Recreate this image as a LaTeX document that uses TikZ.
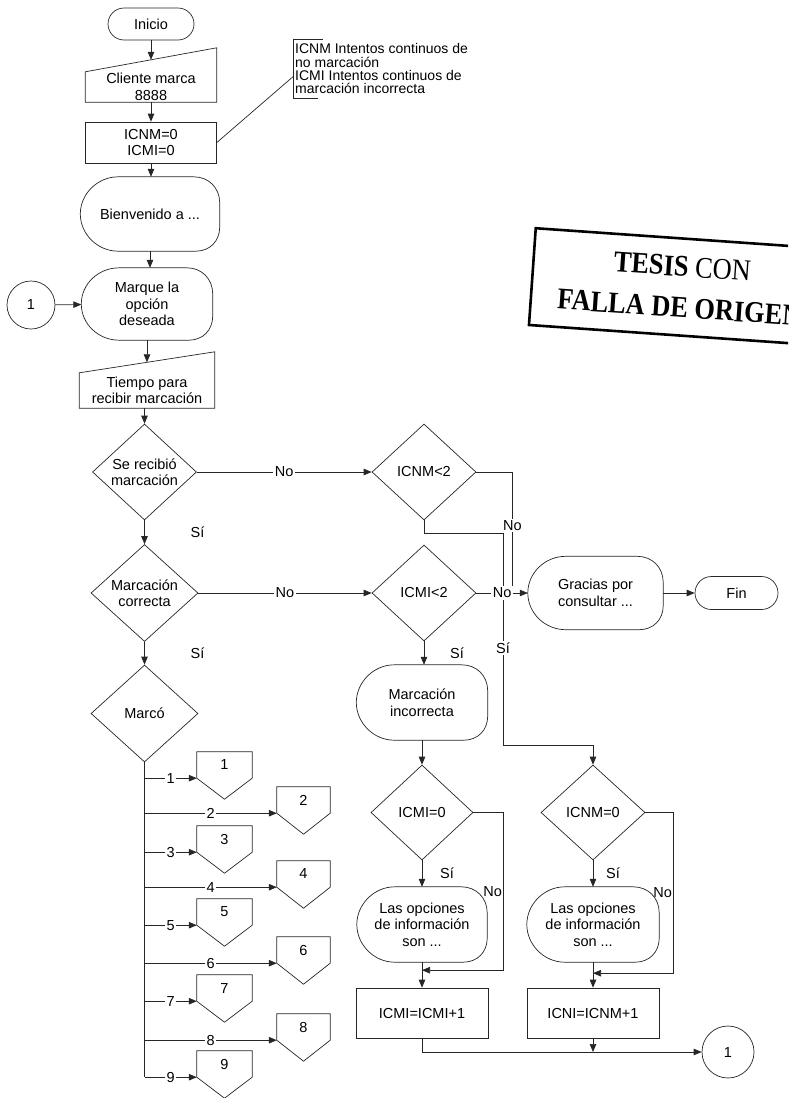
\documentclass[tikz,border=0pt]{standalone}
\usepackage{fontspec}
\usepackage{graphicx}
\setmainfont{Liberation Sans}
\newfontfamily\stampfont{Liberation Serif}
\usetikzlibrary{shapes.geometric,shapes.misc,arrows.meta,calc}

% display symbol: elliptic left side, rounded right side
\newcommand\dispoutline[1]{%
  \draw[ink] ($(#1.north west)+(38,0)$) -- ($(#1.north east)+(-26,0)$)
    .. controls ($(#1.north east)+(-11,0)$) and ($(#1.north east)+(0,11)$) .. ($(#1.north east)+(0,26)$)
    -- ($(#1.south east)+(0,-24)$)
    .. controls ($(#1.south east)+(0,-10)$) and ($(#1.south east)+(-10,0)$) .. ($(#1.south east)+(-24,0)$)
    -- ($(#1.south west)+(38,0)$)
    .. controls ($(#1.south west)+(17,0)$) and ($(#1.west)+(0,20)$) .. (#1.west)
    .. controls ($(#1.west)+(0,-20)$) and ($(#1.north west)+(17,0)$) .. cycle;}
% manual input symbol: slanted top edge rising to the right by #2
\newcommand\manoutline[2]{%
  \draw[ink] (#1.south west) -- (#1.south east) -- ($(#1.north east)+(0,-#2)$)
    -- (#1.north west) -- cycle;}

\begin{document}
\begin{tikzpicture}[x=1pt,y=-1pt,
  txt/.style={font=\fontsize{14.5}{16.5}\selectfont, align=center, inner sep=0pt},
  ink/.style={draw=black!85, line width=0.7pt},
  term/.style={txt, ink, rounded rectangle},
  proc/.style={txt, ink, rectangle},
  bare/.style={txt, rectangle},
  cond/.style={txt, ink, diamond, minimum width=104pt, minimum height=96pt},
  circ/.style={txt, ink, circle},
  lab/.style={txt, fill=white, inner sep=1.5pt},
  arr/.style={ink, -{Triangle[length=8pt,width=6.5pt]}},
]
\useasboundingbox (0,0) rectangle (788,1098);
\clip (0,0) rectangle (788,1098);

% stamp
\node[draw, line width=2.6pt, rotate=-4, minimum width=298pt, minimum height=97pt,
      inner sep=0pt, align=center, font=\stampfont\fontsize{30}{41}\selectfont]
      (stamp) at (681,287)
      {\scalebox{0.88}[1]{\textbf{TESIS} CON}\\\scalebox{0.88}[1]{\textbf{FALLA DE ORIGEN}}};

% main column
\node[term, minimum width=86pt, minimum height=32pt] (start) at (151,24) {Inicio};

\node[bare, minimum width=131pt, minimum height=30pt] (cli) at (151,87) {Cliente marca\\8888};
\manoutline{cli}{24}
\coordinate (cli-in) at ($(cli.north)+(0,-12)$);
\draw[arr] (start.south) -- (cli-in);

\node[proc, minimum width=131pt, minimum height=41pt] (init) at (151,142.5) {ICNM=0\\ICMI=0};
\draw[arr] (cli.south) -- (init.north);

\node[txt, align=left, anchor=north west, font=\fontsize{14}{13.3}\selectfont,
      inner xsep=2pt, inner ysep=3pt, minimum height=59pt] (note) at (293,39)
      {ICNM Intentos continuos de\\no marcación\\ICMI Intentos continuos de\\marcación incorrecta};
\draw[ink] ($(note.north west)+(30,0)$) -- (note.north west) -- (note.south west)
           -- ($(note.south west)+(25,0)$);
\draw[ink] (init.east) -- ($(note.west)+(0,8)$);

\node[bare, minimum width=139pt, minimum height=74pt] (wel) at (150,214) {Bienvenido a ...};
\dispoutline{wel}
\draw[arr] (init.south) -- (init.south |- wel.north);

\node[bare, minimum width=131pt, minimum height=72pt] (mar) at (147,304) {Marque la\\opción\\deseada};
\dispoutline{mar}
\draw[arr] (wel.south) -- (wel.south |- mar.north);

\node[circ, minimum size=48pt] (c1) at (31,305) {1};
\draw[arr] (c1) -- (mar);

\node[bare, minimum width=135pt, minimum height=35pt] (tie) at (147,390.5) {Tiempo para\\recibir marcación};
\manoutline{tie}{21}
\coordinate (tie-in) at ($(tie.north)+(0,-10.5)$);
\draw[arr] (mar.south) -- (tie-in);

\node[cond] (d1) at (144.5,472) {Se recibió\\marcación};
\draw[arr] (tie.south -| d1.north) -- (d1.north);

\node[cond, minimum width=107pt, minimum height=97pt] (d2) at (144.5,593) {Marcación\\correcta};
\draw[arr] (d1.south) -- (d2.north) node[midway, xshift=53pt, txt] {Sí};

\node[cond, minimum width=107pt, minimum height=97pt] (d3) at (144.5,713.5) {Marcó};
\draw[arr] (d2.south) -- (d3.north) node[midway, xshift=53pt, txt] {Sí};

% menu branches
\draw[ink] (d3.south) -- (d3.south |- 0,1077);
\foreach \n/\cx/\cy/\w in {1/224.5/765/55, 2/303.5/800/53, 3/224.5/839/55,
                           4/303.5/874/53, 5/224.5/912/55, 6/303.5/950/53,
                           7/224.5/988/55, 8/303.5/1027/53, 9/224.5/1064/55}{
  \node[bare, minimum width=\w pt, minimum height=26pt] (p\n) at (\cx,\cy) {\n};
  \draw[ink] (p\n.south west) -- (p\n.north west) -- (p\n.north east)
             -- (p\n.south east) -- ($(p\n.south)+(0,21)$) -- cycle;
  \draw[arr] (d3.south |- p\n.south west) -- (p\n.south west) node[midway, lab] {\n};
}

% right part
\node[cond] (e1) at (424,472) {ICNM<2};
\node[cond] (e2) at (424,593) {ICMI<2};
\draw[arr] (d1.east) -- (e1.west) node[midway, lab] {No};
\draw[arr] (d2.east) -- (e2.west) node[midway, lab] {No};

\node[bare, minimum width=131pt, minimum height=75pt] (inc) at (422,702.5) {Marcación\\incorrecta};
\dispoutline{inc}
\node[cond, minimum width=102pt, minimum height=95pt] (f1) at (422,812.5) {ICMI=0};
\node[cond, minimum width=104pt, minimum height=95pt] (f2) at (593,812.5) {ICNM=0};

\coordinate (k1) at ($(e1.south)+(0,13)$);
\coordinate (k2) at ($(k1)+(79,0)$);
\coordinate (k3) at ($(k2)+(0,212)$);
\draw[arr] (e1.south) -- (k1) -- (k2) -- (k3) node[pos=0.54, lab] {Sí} -| (f2.north);

\coordinate (j1) at ($(e2.east)+(36,0)$);
\draw[ink] (e1.east) -| (j1) node[pos=0.72, lab] {No};

\node[bare, minimum width=135pt, minimum height=73pt] (grac) at (595.5,593) {Gracias por\\consultar ...};
\dispoutline{grac}
\draw[arr] (e2.east) -- (grac.west) node[midway, lab] {No};
\node[term, minimum width=83pt, minimum height=33pt] (fin) at (736.5,593) {Fin};
\draw[arr] (grac.east) -- (fin.west);

\draw[arr] (e2.south) -- (e2.south |- inc.north) node[midway, xshift=33pt, txt] {Sí};
\draw[arr] (inc.south) -- (inc.south |- f1.north);

\node[bare, minimum width=130pt, minimum height=75pt] (op1) at (422,924.5) {Las opciones\\de información\\son ...};
\dispoutline{op1}
\draw[arr] (f1.south) -- (op1.north) node[midway, xshift=25pt, txt] {Sí};
\coordinate (m1) at ($(op1.south)+(0,8)$);
\coordinate (r1) at ($(f1.east)+(30,0)$);
\draw[arr] (f1.east) -- (r1) |- (m1) node[pos=0.25, left=1pt, txt] {No};

\node[proc, minimum width=132pt, minimum height=50pt] (g1) at (422,1013) {ICMI=ICMI+1};
\draw[arr] (op1.south) -- (g1.north);

\node[bare, minimum width=132pt, minimum height=75pt] (op2) at (593,924.5) {Las opciones\\de información\\son ...};
\dispoutline{op2}
\draw[arr] (f2.south) -- (op2.north) node[midway, xshift=20pt, txt] {Sí};
\coordinate (m2) at ($(op2.south)+(0,11)$);
\coordinate (r2) at ($(f2.east)+(28,0)$);
\draw[arr] (f2.east) -- (r2) |- (m2) node[pos=0.25, left=1pt, txt] {No};

\node[proc, minimum width=132pt, minimum height=50pt] (g2) at (593,1013) {ICNI=ICNM+1};
\draw[arr] (op2.south) -- (g2.north);

\node[circ, minimum size=52pt] (c2) at (728,1052) {1};
\coordinate (n1) at (g1.south |- c2.west);
\draw[arr] (g1.south) -- (n1) -- (c2.west);
\draw[arr] (g2.south) -- (g2.south |- c2.west);
\end{tikzpicture}
\end{document}
